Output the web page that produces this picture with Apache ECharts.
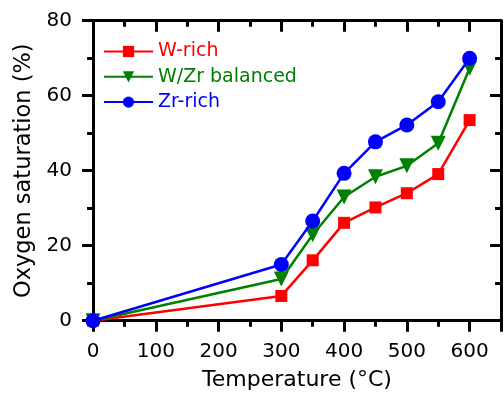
<!DOCTYPE html>
<html>
<head>
<meta charset="utf-8">
<script src="https://cdn.jsdelivr.net/npm/echarts@6/dist/echarts.min.js"></script>
<style>html,body{margin:0;padding:0;background:#fff}#c{width:504px;height:400px}</style>
</head>
<body>
<div id="c"></div>
<script>
var temperatures = [0, 300, 350, 400, 450, 500, 550, 600];
var wRich = [0, 6.6, 16.1, 26.1, 30.2, 34.0, 39.1, 53.5];
var wzrBalanced = [0, 11.1, 22.9, 33.0, 38.4, 41.3, 47.3, 67.3];
var zrRich = [0, 15.0, 26.6, 39.3, 47.7, 52.2, 58.4, 70.0];
var seriesNames = ['W-rich', 'W/Zr balanced', 'Zr-rich'];
var seriesColors = ['#ff0000', '#008000', '#0000ff'];

function pairs(vals) { return temperatures.map(function (t, i) { return [t, vals[i]]; }); }

var FONT = '"DejaVu Sans", sans-serif';
var axisLine = { show: true, onZero: false, lineStyle: { color: '#000', width: 3 } };

function xAx(pos, interval, tickLen, labels, name) {
  return {
    type: 'value', position: pos, min: 0, max: 650, interval: interval,
    axisLine: axisLine,
    axisTick: { show: true, inside: pos === 'top', length: tickLen, lineStyle: { color: '#000', width: 3 } },
    axisLabel: {
      show: labels, margin: 21, fontSize: 20, color: '#000', fontFamily: FONT,
      formatter: function (v) { return v > 600 ? '' : String(v); }
    },
    splitLine: { show: false },
    name: name || '', nameLocation: 'middle', nameGap: 49,
    nameTextStyle: { fontSize: 22, color: '#000', fontFamily: FONT }
  };
}
function yAx(pos, labels, name) {
  return {
    type: 'value', position: pos, min: 0, max: 80, interval: 20,
    axisLine: axisLine,
    axisTick: { show: true, inside: pos === 'right', length: 11, lineStyle: { color: '#000', width: 3 } },
    minorTick: { show: true, splitNumber: 2, length: 6, lineStyle: { color: '#000', width: 3 } },
    axisLabel: { show: labels, margin: 21, fontSize: 20, color: '#000', fontFamily: FONT },
    splitLine: { show: false }, minorSplitLine: { show: false },
    name: name || '', nameLocation: 'middle', nameGap: 57,
    nameTextStyle: { fontSize: 22.5, color: '#000', fontFamily: FONT }
  };
}

var symbols = ['rect', 'path://M0,0 L10,0 L5,10 Z', 'circle'];
var sizes = [12, 15, 15];
var dataSets = [wRich, wzrBalanced, zrRich];

var chart = echarts.init(document.getElementById('c'), null, { renderer: 'canvas' });
chart.setOption({
  animation: false,
  grid: { left: 93, right: -4, top: 20.7, bottom: 79.3, containLabel: false },
  xAxis: [
    xAx('bottom', 100, 11, true, 'Temperature (°C)'),
    xAx('bottom', 50, 6, false),
    xAx('top', 100, 11, false),
    xAx('top', 50, 6, false)
  ],
  yAxis: [
    yAx('left', true, 'Oxygen saturation (%)'),
    yAx('right', false)
  ],
  legend: {
    orient: 'vertical', left: 103, top: 42, padding: 0, itemWidth: 49, itemHeight: 14, itemGap: 6.3,
    textStyle: { fontSize: 19, fontFamily: FONT },
    data: seriesNames.map(function (n, i) { return { name: n, textStyle: { color: seriesColors[i] } }; })
  },
  series: seriesNames.map(function (n, i) {
    return {
      name: n, type: 'line', xAxisIndex: 0, yAxisIndex: 0,
      data: pairs(dataSets[i]), symbol: symbols[i], symbolSize: sizes[i],
      clip: false, z: 3 + i,
      lineStyle: { color: seriesColors[i], width: 2.5 },
      itemStyle: { color: seriesColors[i] }
    };
  })
});
</script>
</body>
</html>
